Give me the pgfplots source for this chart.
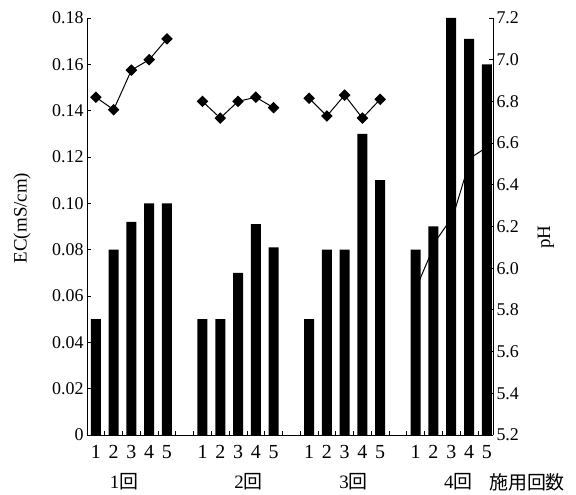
\documentclass[border=0pt]{standalone}
\usepackage{pgfplots}
\pgfplotsset{compat=1.18}
\usepackage{fontspec}
\setmainfont{Liberation Serif}
\newfontfamily\jp{Noto Sans CJK JP}
\begin{document}
\begin{tikzpicture}
\pgfplotsset{
  common/.style={scale only axis, width=406bp, height=417bp,
    xmin=-0.5, xmax=22.35, clip=false,
    tick align=inside, major tick length=4bp, minor tick length=3bp,
    axis line style={line width=1bp}, tick style={line width=0.8bp, black},
    yticklabel style={font=\fontsize{18}{18}\selectfont},
    xticklabel style={font=\fontsize{20}{20}\selectfont}},
}
\begin{axis}[common, name=ax,
  ymin=0, ymax=0.18,
  axis x line*=bottom, axis y line*=left,
  ytick={0,0.02,0.04,0.06,0.08,0.10,0.12,0.14,0.16,0.18},
  yticklabels={\textrm{0},\textrm{0.02},\textrm{0.04},\textrm{0.06},\textrm{0.08},\textrm{0.10},\textrm{0.12},\textrm{0.14},\textrm{0.16},\textrm{0.18}},
  xtick={0.5,1.5,2.5,3.5,4.5,5.5,6.5,7.5,8.5,9.5,10.5,11.5,12.5,13.5,14.5,15.5,16.5,17.5,18.5,19.5,20.5,21.5},
  xticklabels={},
  extra x ticks={0,1,2,3,4,6,7,8,9,10,12,13,14,15,16,18,19,20,21,22},
  extra x tick labels={\textrm{1},\textrm{2},\textrm{3},\textrm{4},\textrm{5},\textrm{1},\textrm{2},\textrm{3},\textrm{4},\textrm{5},\textrm{1},\textrm{2},\textrm{3},\textrm{4},\textrm{5},\textrm{1},\textrm{2},\textrm{3},\textrm{4},\textrm{5}},
  extra x tick style={major tick length=0pt, xticklabel style={yshift=-7bp}},
]
\addplot[ybar, fill=black, draw=none, bar width=10bp, bar shift=0pt] coordinates {
  (0,0.050) (1,0.080) (2,0.092) (3,0.100) (4,0.100)
  (6,0.050) (7,0.050) (8,0.070) (9,0.091) (10,0.081)
  (12,0.050) (13,0.080) (14,0.080) (15,0.130) (16,0.110)
  (18,0.080) (19,0.090) (20,0.180) (21,0.171) (22,0.160)
};
\node[font=\fontsize{19}{19}\selectfont] at (axis cs:1.58,0) [yshift=-47bp] {1{\jp 回}};
\node[font=\fontsize{19}{19}\selectfont] at (axis cs:8.6,0) [yshift=-47bp] {2{\jp 回}};
\node[font=\fontsize{19}{19}\selectfont] at (axis cs:14.5,0) [yshift=-47bp] {3{\jp 回}};
\node[font=\fontsize{19}{19}\selectfont] at (axis cs:20.4,0) [yshift=-47bp] {4{\jp 回}};
\end{axis}
\begin{axis}[common,
  ymin=5.2, ymax=7.2,
  axis y line*=right, axis x line=none,
  ytick={5.2,5.4,5.6,5.8,6.0,6.2,6.4,6.6,6.8,7.0,7.2},
  yticklabels={\textrm{5.2},\textrm{5.4},\textrm{5.6},\textrm{5.8},\textrm{6.0},\textrm{6.2},\textrm{6.4},\textrm{6.6},\textrm{6.8},\textrm{7.0},\textrm{7.2}},
]
\addplot[black, line width=1bp, mark=square*, mark size=3.6bp, mark options={rotate=45, solid}] coordinates {
  (0,6.82) (1,6.76) (2,6.95) (3,7.00) (4,7.10)};
\addplot[black, line width=1bp, mark=square*, mark size=3.6bp, mark options={rotate=45, solid}] coordinates {
  (6,6.80) (7,6.72) (8,6.80) (9,6.82) (10,6.77)};
\addplot[black, line width=1bp, mark=square*, mark size=3.6bp, mark options={rotate=45, solid}] coordinates {
  (12,6.815) (13,6.73) (14,6.83) (15,6.72) (16,6.81)};
\addplot[black, line width=1bp] coordinates {
  (18.2,5.94) (19.2,6.14) (20.1,6.25) (21.1,6.53) (22.0,6.58)};
\end{axis}
\node[rotate=90, font=\fontsize{19}{19}\selectfont] at ([shift={(-65bp,217bp)}]ax.south west) {EC(mS/cm)};
\node[rotate=90, font=\fontsize{19}{19}\selectfont] at ([shift={(459bp,198bp)}]ax.south west) {pH};
\node[font=\fontsize{19}{19}\selectfont\jp] at ([shift={(440bp,-47bp)}]ax.south west) {施用回数};
\pgfresetboundingbox
\path ([shift={(-87bp,-60bp)}]ax.south west) rectangle ([shift={(489bp,435bp)}]ax.south west);
\end{tikzpicture}
\end{document}
